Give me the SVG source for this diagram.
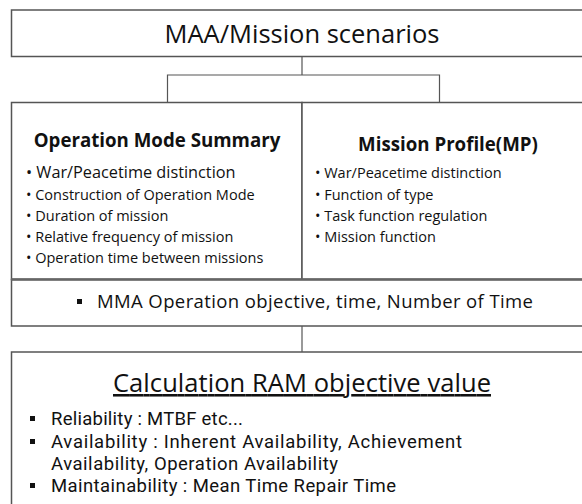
<svg xmlns="http://www.w3.org/2000/svg" width="582" height="504" viewBox="0 0 582 504">
<style>
.box{fill:#fff;stroke:#555;stroke-width:1.5}
.conn{fill:none;stroke:#555;stroke-width:1.2}
text{font-family:"Open Sans","Noto Sans","DejaVu Sans",sans-serif;fill:#111}
.h1{font-size:25.5px;text-anchor:middle}
.h2{font-size:18.7px;font-weight:bold;text-anchor:middle}
.li{font-size:14.5px}
.li2{font-size:16.3px}
.big{font-size:18.5px}
.ram{font-family:Roboto,"Open Sans",sans-serif;font-size:18.5px}
.sq{fill:#111}
</style>
<rect width="582" height="504" fill="#fff"/>
<g id="connectors">
<path class="conn" d="M302 56.5V75M167.5 102.5V75H439.5V102.5"/>
<path class="conn" d="M302 326V352"/>
</g>
<g id="node-top">
<rect class="box" x="11.5" y="10" width="590" height="46.5"/>
<text class="h1" x="302" y="43" textLength="275">MAA/Mission scenarios</text>
</g>
<g id="node-oms">
<rect class="box" x="11.5" y="102.5" width="290.5" height="177"/>
<text class="h2" x="157" y="147">Operation Mode Summary</text>
<text class="li2" x="26" y="178">• War/Peacetime distinction</text>
<text class="li" x="26" y="200">• Construction of Operation Mode</text>
<text class="li" x="26" y="221">• Duration of mission</text>
<text class="li" x="26" y="242">• Relative frequency of mission</text>
<text class="li" x="26" y="263">• Operation time between missions</text>
</g>
<g id="node-mp">
<rect class="box" x="302" y="102.5" width="300" height="177"/>
<text class="h2" x="448" y="151">Mission Profile(MP)</text>
<text class="li" x="315" y="178">• War/Peacetime distinction</text>
<text class="li" x="315" y="200">• Function of type</text>
<text class="li" x="315" y="221">• Task function regulation</text>
<text class="li" x="315" y="242">• Mission function</text>
</g>
<g id="node-mma">
<rect class="box" x="11.5" y="279.5" width="590" height="46.5"/>
<line x1="11" y1="279.5" x2="582" y2="279.5" stroke="#666" stroke-width="2.5"/>
<rect class="sq" x="77" y="299" width="5" height="5"/>
<text class="big" x="97" y="308" textLength="436">MMA Operation objective, time, Number of Time</text>
</g>
<g id="node-ram">
<rect class="box" x="11.5" y="352" width="590" height="170"/>
<text class="h1" x="302" y="392" style="text-decoration:underline" textLength="378">Calculation RAM objective value</text>
<rect class="sq" x="30" y="416" width="5" height="5"/>
<text class="ram" x="51" y="425" textLength="192">Reliability : MTBF etc...</text>
<rect class="sq" x="30" y="439" width="5" height="5"/>
<text class="ram" x="51" y="448" textLength="411">Availability : Inherent Availability, Achievement</text>
<text class="ram" x="51" y="470" textLength="287">Availability, Operation Availability</text>
<rect class="sq" x="30" y="483" width="5" height="5"/>
<text class="ram" x="51" y="492" textLength="345">Maintainability : Mean Time Repair Time</text>
</g>
</svg>
